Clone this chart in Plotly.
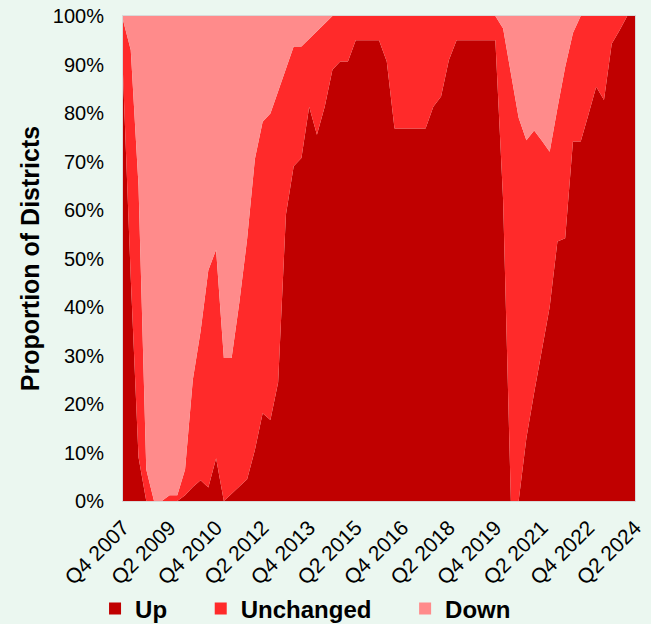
import plotly.graph_objects as go

# Quarter labels: Q4 2007 .. Q2 2024 (67 quarters)
quarters = []
y, q = 2007, 4
while (y, q) <= (2024, 2):
    quarters.append(f"Q{q} {y}")
    q += 1
    if q > 4:
        q = 1
        y += 1

# Share of districts (%) reporting "Up"
up = [88, 46, 9, 0, 0, 0, 0, 0, 1.2, 2.9,
      4.3, 2.8, 8.8, 0, 1.5, 3, 4.5, 10.5, 18.1, 16.7,
      24.5, 59, 69, 70.7, 81.3, 75.5, 81.3, 88.9, 90.6, 90.6,
      95, 95, 95, 95, 90.6, 76.8, 76.8, 76.8, 76.8, 76.8,
      81.3, 83.4, 90.9, 95, 95, 95, 95, 95, 95, 62,
      0, 0, 13, 22.3, 31.4, 40, 53.5, 54.2, 74.1, 74.1,
      79.7, 85.4, 82.7, 94.3, 97, 100, 100]

# Cumulative share "Up" + "Unchanged" (%)
up_or_unchanged = [99.2, 93, 65, 6.5, 0, 0, 1.2, 1.2, 6.5, 25,
                   35, 47.6, 51.8, 29.5, 29.5, 41, 54, 70.5, 78.2, 79.9,
                   84.5, 89, 93.7, 93.7, 95.3, 96.8, 98.4, 100, 100, 100,
                   100, 100, 100, 100, 100, 100, 100, 100, 100, 100,
                   100, 100, 100, 100, 100, 100, 100, 100, 100, 97.4,
                   88, 79, 74.4, 76.4, 74.3, 72, 81, 89.5, 96.5, 100,
                   100, 100, 100, 100, 100, 100, 100]

unchanged = [round(c - u, 1) for c, u in zip(up_or_unchanged, up)]
down = [round(100 - c, 1) for c in up_or_unchanged]

series_names = ["Up", "Unchanged", "Down"]
series_colors = ["#C00000", "#FF2A2A", "#FF8B8B"]
series_values = [up, unchanged, down]

tick_idx = list(range(0, len(quarters), 6))
tick_text = [quarters[i] for i in tick_idx]
y_ticks = list(range(0, 101, 10))
y_tick_text = [f"{v}%" for v in y_ticks]

x = list(range(len(quarters)))
bg = "#EBF7F0"
font_family = "Liberation Sans, Arial, sans-serif"

fig = go.Figure()
for name, color, vals in zip(series_names, series_colors, series_values):
    fig.add_trace(go.Scatter(
        x=x, y=vals, name=name, stackgroup="one", mode="lines",
        line=dict(width=0, color=color), fillcolor=color,
        showlegend=False, hoverinfo="skip"))
# legend entries with square swatches
pad = "\u00a0" * 4 + "\u200a"
for name, color in zip(series_names, series_colors):
    fig.add_trace(go.Scatter(
        x=[None], y=[None], mode="markers",
        name="<b>" + name + "</b>" + pad,
        marker=dict(symbol="square", size=12, color=color),
        showlegend=True))

fig.update_layout(
    width=651, height=624,
    paper_bgcolor=bg, plot_bgcolor=bg,
    margin=dict(l=123, r=16, t=16, b=123, autoexpand=False),
    font=dict(family=font_family, size=20, color="#000000"),
    showlegend=True,
    legend=dict(orientation="h", xref="container", yref="container",
                x=0.146, y=0.024, xanchor="left", yanchor="middle",
                traceorder="normal",
                font=dict(size=24, family=font_family),
                itemsizing="constant", bgcolor="rgba(0,0,0,0)"),
)
fig.update_xaxes(
    range=[0, len(quarters) - 1], tickmode="array", tickvals=tick_idx,
    ticktext=tick_text, tickangle=-45, showgrid=False, zeroline=False,
    showline=True, linecolor="#D9D9D9", linewidth=1, mirror=True,
    tickfont=dict(size=21), ticks="", ticklabelstandoff=5)
fig.update_yaxes(
    range=[0, 100], tickmode="array", tickvals=y_ticks, ticktext=y_tick_text,
    showgrid=False, zeroline=False,
    showline=True, linecolor="#D9D9D9", linewidth=1, mirror=True,
    tickfont=dict(size=20), ticks="", ticklabelstandoff=14,
    title=dict(text="<b>Proportion of Districts</b>", font=dict(size=25), standoff=6))

fig.write_html(
    "out.html",
    config={"displayModeBar": False},
    post_script=f"document.body.style.margin='0';document.body.style.background='{bg}';")
